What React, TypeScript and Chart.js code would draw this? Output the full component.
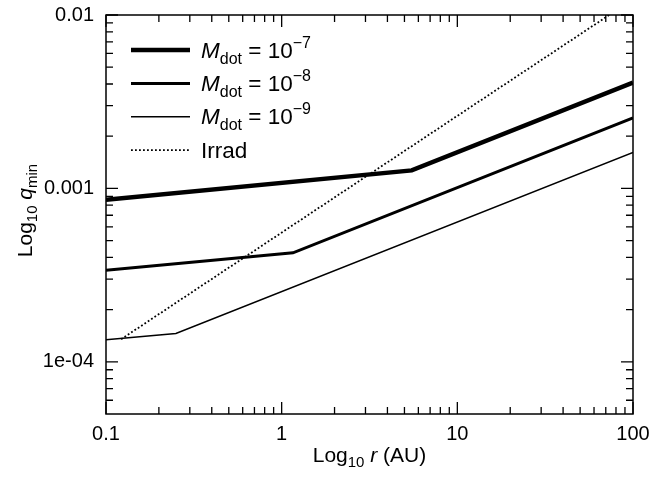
import React, { useEffect, useRef } from "react";
import { Chart, registerables } from "chart.js";

Chart.register(...registerables);

// ---- data ----
const mdotExponents = ["−7", "−8", "−9"];
const irradLabel = "Irrad";

const r7 = [0.1, 5.5, 100];
const q7 = [8.6e-4, 1.27e-3, 4.07e-3];
const r8 = [0.1, 1.16, 100];
const q8 = [3.37e-4, 4.25e-4, 2.55e-3];
const r9 = [0.1, 0.25, 100];
const q9 = [1.34e-4, 1.456e-4, 1.61e-3];
const rIrr = [0.122, 100];
const qIrr = [1.35e-4, 1.234e-2];

const xTickValues = [0.1, 1, 10, 100];
const xTickLabels = ["0.1", "1", "10", "100"];
const yTickValues = [1e-4, 1e-3, 1e-2];
const yTickLabels = ["1e-04", "0.001", "0.01"];
const xRange = [0.1, 100];
const yRange = [5e-5, 0.01];

const FONT = "'Liberation Sans', Arial, Helvetica, sans-serif";

type Part = { t: string; size: number; italic?: boolean; dy?: number };

function richWidth(ctx: CanvasRenderingContext2D, parts: Part[]) {
  let w = 0;
  for (const p of parts) {
    ctx.font = `${p.italic ? "italic " : ""}${p.size}px ${FONT}`;
    w += ctx.measureText(p.t).width;
  }
  return w;
}

function drawRich(ctx: CanvasRenderingContext2D, x: number, y: number, parts: Part[]) {
  let cx = x;
  ctx.textBaseline = "alphabetic";
  ctx.textAlign = "left";
  ctx.fillStyle = "#000";
  for (const p of parts) {
    ctx.font = `${p.italic ? "italic " : ""}${p.size}px ${FONT}`;
    ctx.fillText(p.t, cx, y + (p.dy || 0));
    cx += ctx.measureText(p.t).width;
  }
}

function minorTicks(lo: number, hi: number) {
  const out: number[] = [];
  let d = Math.pow(10, Math.floor(Math.log10(lo) - 1e-9));
  while (d <= hi * 1.0001) {
    for (let k = 2; k <= 9; k++) {
      const v = k * d;
      if (v > lo * 1.0001 && v < hi * 0.9999) out.push(v);
    }
    d *= 10;
  }
  return out;
}

const framePlugin = {
  id: "framePlugin",
  afterDraw(chart: any) {
    const ctx: CanvasRenderingContext2D = chart.ctx;
    const { left, right, top, bottom } = chart.chartArea;
    const xs = chart.scales.x;
    const ys = chart.scales.y;
    ctx.save();
    ctx.strokeStyle = "#000";
    ctx.lineWidth = 1.5;
    ctx.strokeRect(left, top, right - left, bottom - top);

    const MAJ = 12;
    const MIN = 7;
    ctx.lineWidth = 1.3;
    ctx.beginPath();
    const xMinor = minorTicks(xRange[0], xRange[1]);
    for (const v of xMinor) {
      const p = xs.getPixelForValue(v);
      ctx.moveTo(p, bottom); ctx.lineTo(p, bottom - MIN);
      ctx.moveTo(p, top); ctx.lineTo(p, top + MIN);
    }
    for (const v of xTickValues) {
      const p = xs.getPixelForValue(v);
      ctx.moveTo(p, bottom); ctx.lineTo(p, bottom - MAJ);
      ctx.moveTo(p, top); ctx.lineTo(p, top + MAJ);
    }
    const yMinor = minorTicks(yRange[0], yRange[1]);
    for (const v of yMinor) {
      const p = ys.getPixelForValue(v);
      ctx.moveTo(left, p); ctx.lineTo(left + MIN, p);
      ctx.moveTo(right, p); ctx.lineTo(right - MIN, p);
    }
    for (const v of yTickValues) {
      const p = ys.getPixelForValue(v);
      ctx.moveTo(left, p); ctx.lineTo(left + MAJ, p);
      ctx.moveTo(right, p); ctx.lineTo(right - MAJ, p);
    }
    ctx.stroke();

    // legend
    const datasets = chart.data.datasets;
    for (let i = 0; i < datasets.length; i++) {
      const ds = datasets[i];
      const ly = 50 + i * 33.4;
      ctx.beginPath();
      ctx.strokeStyle = "#000";
      ctx.lineWidth = ds.borderWidth;
      ctx.setLineDash(ds.borderDash || []);
      ctx.moveTo(131, ly);
      ctx.lineTo(190, ly);
      ctx.stroke();
      ctx.setLineDash([]);
      const parts: Part[] =
        i < mdotExponents.length
          ? [
              { t: "M", size: 22.5, italic: true },
              { t: "dot", size: 16, dy: 6 },
              { t: " = 10", size: 22.5 },
              { t: mdotExponents[i], size: 16, dy: -10 },
            ]
          : [{ t: irradLabel, size: 22.5 }];
      drawRich(ctx, 201, ly + 7.5, parts);
    }

    // x title
    const xParts: Part[] = [
      { t: "Log", size: 21 },
      { t: "10", size: 15, dy: 5 },
      { t: " ", size: 21 },
      { t: "r", size: 21, italic: true },
      { t: " (AU)", size: 21 },
    ];
    const xw = richWidth(ctx, xParts);
    drawRich(ctx, (left + right) / 2 - xw / 2, 462, xParts);

    // y title
    const yParts: Part[] = [
      { t: "Log", size: 21 },
      { t: "10", size: 15, dy: 5 },
      { t: " ", size: 21 },
      { t: "q", size: 21, italic: true },
      { t: "min", size: 15, dy: 5 },
    ];
    const yw = richWidth(ctx, yParts);
    ctx.save();
    ctx.translate(32, (top + bottom) / 2 - 4);
    ctx.rotate(-Math.PI / 2);
    drawRich(ctx, -yw / 2, 0, yParts);
    ctx.restore();

    ctx.restore();
  },
};

function pts(xs: number[], ys: number[]) {
  return xs.map((x, i) => ({ x, y: ys[i] }));
}

export default function App() {
  const ref = useRef<HTMLCanvasElement | null>(null);
  useEffect(() => {
    if (!ref.current) return;
    const chart = new Chart(ref.current, {
      type: "line",
      data: {
        datasets: [
          { label: "Mdot 1e-7", data: pts(r7, q7), borderColor: "#000", borderWidth: 4.5, pointRadius: 0, fill: false },
          { label: "Mdot 1e-8", data: pts(r8, q8), borderColor: "#000", borderWidth: 3, pointRadius: 0, fill: false },
          { label: "Mdot 1e-9", data: pts(r9, q9), borderColor: "#000", borderWidth: 1.5, pointRadius: 0, fill: false },
          { label: irradLabel, data: pts(rIrr, qIrr), borderColor: "#000", borderWidth: 1.8, borderDash: [1.8, 2.2], pointRadius: 0, fill: false },
        ] as any,
      },
      options: {
        animation: false,
        responsive: true,
        maintainAspectRatio: false,
        layout: { padding: { top: 15, right: 21, bottom: 0, left: 0 } },
        plugins: { legend: { display: false }, tooltip: { enabled: false } },
        scales: {
          x: {
            type: "logarithmic",
            min: xRange[0],
            max: xRange[1],
            grid: { display: false, drawTicks: false },
            border: { display: false },
            afterBuildTicks: (s: any) => {
              s.ticks = xTickValues.map((v) => ({ value: v }));
            },
            afterFit: (s: any) => {
              s.height = 65;
              s.paddingLeft = 0;
              s.paddingRight = 0;
              s.paddingTop = 0;
              s.paddingBottom = 0;
            },
            ticks: {
              autoSkip: false,
              maxRotation: 0,
              padding: 8,
              color: "#000",
              font: { size: 20, family: FONT },
              callback: (v: any) => {
                const i = xTickValues.findIndex((t) => Math.abs(t - v) / t < 1e-6);
                return i >= 0 ? xTickLabels[i] : "";
              },
            },
          },
          y: {
            type: "logarithmic",
            min: yRange[0],
            max: yRange[1],
            grid: { display: false, drawTicks: false },
            border: { display: false },
            afterBuildTicks: (s: any) => {
              s.ticks = yTickValues.map((v) => ({ value: v }));
            },
            afterFit: (s: any) => {
              s.width = 106;
              s.paddingLeft = 0;
              s.paddingRight = 0;
              s.paddingTop = 0;
              s.paddingBottom = 0;
            },
            ticks: {
              autoSkip: false,
              padding: 12,
              color: "#000",
              font: { size: 20, family: FONT },
              callback: (v: any) => {
                const i = yTickValues.findIndex((t) => Math.abs(t - v) / t < 1e-6);
                return i >= 0 ? yTickLabels[i] : "";
              },
            },
          },
        },
      } as any,
      plugins: [framePlugin],
    });
    return () => chart.destroy();
  }, []);
  return (
    <div style={{ position: "absolute", left: 0, top: 0, width: 654, height: 479, background: "#fff" }}>
      <canvas ref={ref} />
    </div>
  );
}
